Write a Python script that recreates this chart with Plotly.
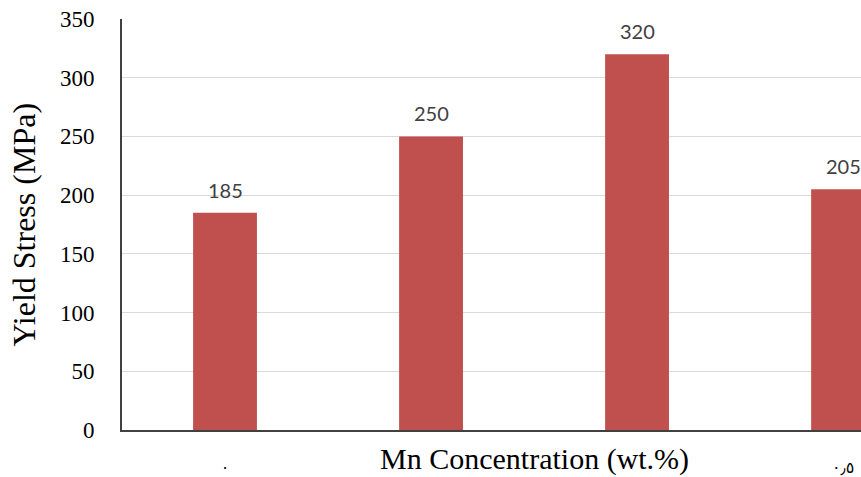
import plotly.graph_objects as go

# Mn content (wt.%) written with Arabic-Indic digits, and measured yield stress
categories = ["٠", "٠٫١", "٠٫٣", "٠٫٥"]
yield_stress = [185, 250, 320, 205]

y_ticks = [0, 50, 100, 150, 200, 250, 300, 350]

bar_color = "#C0504D"

fig = go.Figure()
fig.add_trace(go.Bar(
    x=categories,
    y=yield_stress,
    marker=dict(color=bar_color, line=dict(width=0)),
    width=0.31,
    showlegend=False,
    hoverinfo="skip",
))

# value labels above each bar
for cat, val in zip(categories, yield_stress):
    fig.add_annotation(
        x=cat, y=val, xref="x", yref="y",
        text=str(val), showarrow=False,
        yanchor="middle", yshift=23,
        font=dict(family="Lato, Open Sans, sans-serif", size=20, color="#404040"),
    )

# axis titles
fig.add_annotation(
    x=1.5, y=0, xref="x", yref="paper",
    text="Mn Concentration (wt.%)", showarrow=False,
    xanchor="center", yanchor="middle", yshift=-29,
    bgcolor="white", borderpad=0,
    font=dict(family="Liberation Serif, Times New Roman, serif", size=30, color="#000000"),
)
fig.add_annotation(
    x=0, y=0.5, xref="paper", yref="paper",
    text="Yield Stress (MPa)", showarrow=False, textangle=-90,
    xanchor="center", yanchor="middle", xshift=-99,
    font=dict(family="Liberation Serif, Times New Roman, serif", size=32, color="#000000"),
)

fig.update_layout(
    width=861, height=477,
    margin=dict(l=122, r=0, t=19, b=47),
    paper_bgcolor="white",
    plot_bgcolor="white",
    bargap=0.69,
    xaxis=dict(
        type="category",
        range=[-0.5, 3.087],
        showgrid=False,
        showline=True, linecolor="#404040", linewidth=2,
        ticks="", ticklabelstandoff=22,
        tickfont=dict(family="DejaVu Sans, sans-serif", size=16, color="#000000"),
        zeroline=False,
        fixedrange=True,
    ),
    yaxis=dict(
        range=[0, 350],
        tickvals=y_ticks,
        showgrid=True, gridcolor="#d9d9d9", gridwidth=1,
        showline=True, linecolor="#404040", linewidth=2,
        ticks="", ticklabelstandoff=21,
        tickfont=dict(family="Liberation Serif, Times New Roman, serif", size=23, color="#000000"),
        zeroline=False,
        fixedrange=True,
    ),
)

fig.write_html("out.html")
